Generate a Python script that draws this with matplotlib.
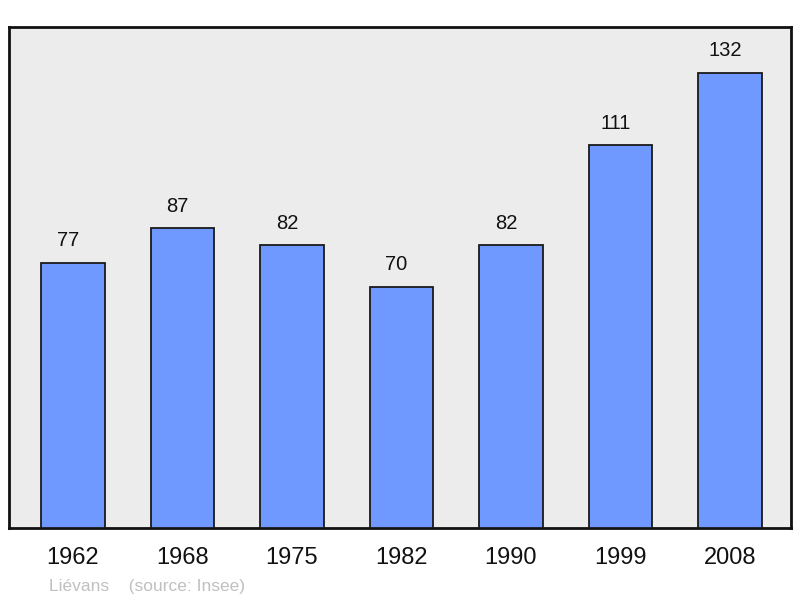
import matplotlib
matplotlib.use("Agg")
import matplotlib.pyplot as plt

years = ["1962", "1968", "1975", "1982", "1990", "1999", "2008"]
population = [77, 87, 82, 70, 82, 111, 132]
commune = "Liévans"
source = "(source: Insee)"

plt.rcParams['font.family'] = ['Liberation Sans', 'DejaVu Sans']

fig = plt.figure(figsize=(8, 5.98), dpi=100)
ax = fig.add_axes([9/800, 70/598, 782/800, 501/598])
ax.set_facecolor('#ececec')
x = list(range(len(years)))
ax.bar(x, population, width=0.58, color='#7099ff', edgecolor='#1a1a1a', linewidth=1.3, zorder=3)
ax.set_xlim(-0.584, 6.558)
ax.set_ylim(0, 145.3)
for xi, v in zip(x, population):
    ax.annotate(str(v), (xi, v), xytext=(-3.6, 9), textcoords='offset points',
                ha='center', va='bottom', fontsize=14.5, color='#111111')
ax.set_xticks(x)
ax.set_xticklabels(years, fontsize=17, color='#111111')
ax.tick_params(axis='x', length=0, pad=14)
ax.set_yticks([])
for s in ax.spines.values():
    s.set_linewidth(2)
    s.set_color('#111111')
fig.text(49/800, 1 - 590.5/598, commune + "    " + source, fontsize=12.5,
         color='#c0c0c0', va='baseline', ha='left')
fig.savefig('out.png', dpi=100)
